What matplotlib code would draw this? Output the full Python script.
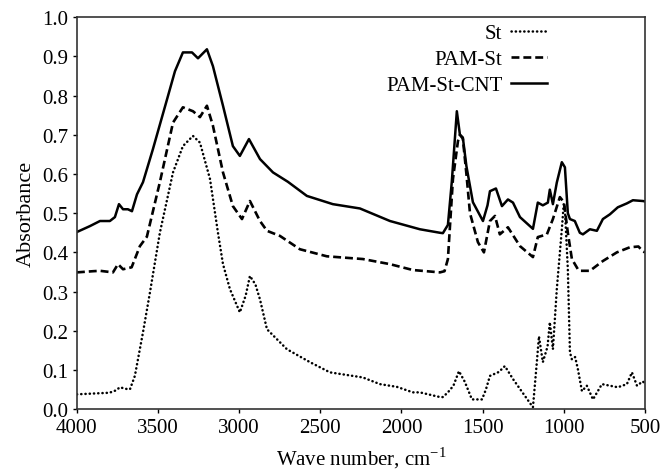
import matplotlib
matplotlib.use("Agg")
import matplotlib.pyplot as plt
from matplotlib.ticker import FormatStrFormatter

# FTIR spectra (wave number in cm^-1, absorbance)
wn_st = [4000, 3900, 3800, 3760, 3735, 3700, 3673, 3643, 3593, 3550, 3489, 3408,
         3347, 3285, 3242, 3180, 3131, 3100, 3057, 2996, 2960, 2934, 2900, 2872,
         2829, 2706, 2564, 2441, 2238, 2133, 2028, 1930, 1887, 1763, 1745, 1714,
         1680, 1646, 1610, 1566, 1504, 1480, 1455, 1400, 1363, 1313, 1250, 1190,
         1166, 1153, 1129, 1100, 1086, 1067, 1043, 1012, 1000, 993, 975, 962, 950,
         930, 913, 888, 858, 820, 765, 716, 667, 611, 580, 549, 513, 500]
abs_st = [0.038, 0.040, 0.042, 0.048, 0.056, 0.052, 0.051, 0.085, 0.196, 0.298,
          0.450, 0.604, 0.671, 0.697, 0.680, 0.587, 0.450, 0.370, 0.306, 0.247,
          0.290, 0.340, 0.318, 0.280, 0.204, 0.153, 0.120, 0.094, 0.081, 0.064,
          0.057, 0.043, 0.043, 0.031, 0.031, 0.043, 0.060, 0.097, 0.070, 0.025,
          0.025, 0.050, 0.085, 0.095, 0.110, 0.077, 0.040, 0.005, 0.120, 0.186,
          0.120, 0.160, 0.222, 0.153, 0.306, 0.459, 0.525, 0.510, 0.357, 0.145,
          0.127, 0.133, 0.102, 0.046, 0.060, 0.025, 0.064, 0.060, 0.056, 0.064,
          0.094, 0.060, 0.071, 0.065]

wn_pam = [4000, 3900, 3858, 3778, 3747, 3716, 3663, 3612, 3569, 3489, 3408, 3347,
          3285, 3242, 3199, 3162, 3100, 3039, 2983, 2934, 2872, 2829, 2749, 2626,
          2460, 2238, 2071, 1930, 1763, 1735, 1714, 1683, 1652, 1640, 1622, 1600,
          1578, 1529, 1492, 1455, 1424, 1394, 1344, 1270, 1190, 1160, 1104, 1067,
          1024, 999, 975, 950, 913, 901, 839, 759, 673, 593, 540, 513, 500]
abs_pam = [0.349, 0.352, 0.353, 0.349, 0.370, 0.357, 0.362, 0.416, 0.440, 0.579,
           0.731, 0.770, 0.760, 0.745, 0.774, 0.723, 0.604, 0.518, 0.485, 0.531,
           0.480, 0.455, 0.442, 0.408, 0.390, 0.383, 0.370, 0.355, 0.349, 0.352,
           0.383, 0.587, 0.684, 0.700, 0.690, 0.600, 0.500, 0.426, 0.400, 0.480,
           0.493, 0.446, 0.464, 0.416, 0.388, 0.439, 0.446, 0.485, 0.541, 0.528,
           0.450, 0.383, 0.357, 0.353, 0.353, 0.378, 0.400, 0.413, 0.415, 0.403,
           0.400]

wn_cnt = [4000, 3920, 3858, 3797, 3766, 3741, 3716, 3686, 3661, 3630, 3593, 3532,
          3445, 3396, 3347, 3291, 3254, 3199, 3162, 3100, 3039, 2996, 2940, 2872,
          2792, 2700, 2583, 2423, 2256, 2071, 1887, 1763, 1745, 1714, 1690, 1659,
          1640, 1622, 1600, 1560, 1498, 1470, 1455, 1418, 1381, 1344, 1313, 1270,
          1190, 1160, 1129, 1098, 1086, 1067, 1043, 1012, 993, 975, 962, 932, 901,
          882, 839, 796, 759, 716, 667, 611, 574, 513, 500]
abs_cnt = [0.452, 0.467, 0.480, 0.480, 0.490, 0.523, 0.510, 0.510, 0.505, 0.548,
           0.579, 0.663, 0.790, 0.862, 0.910, 0.910, 0.895, 0.918, 0.875, 0.774,
           0.671, 0.646, 0.689, 0.638, 0.604, 0.580, 0.544, 0.523, 0.512, 0.480,
           0.459, 0.450, 0.449, 0.470, 0.580, 0.760, 0.700, 0.693, 0.620, 0.528,
           0.480, 0.520, 0.556, 0.563, 0.518, 0.535, 0.527, 0.490, 0.460, 0.527,
           0.520, 0.527, 0.560, 0.523, 0.578, 0.630, 0.617, 0.500, 0.485, 0.480,
           0.450, 0.446, 0.459, 0.455, 0.485, 0.497, 0.515, 0.525, 0.533, 0.531,
           0.530]

plt.rcParams["font.family"] = ["Liberation Serif", "DejaVu Serif"]
plt.rcParams["font.size"] = 15

fig = plt.figure(figsize=(6.69, 4.77), dpi=100)
ax = fig.add_axes([0.115, 0.140, 0.849, 0.822])

ax.plot(wn_st, abs_st, color="black", linestyle=(0, (0.1, 1.6)), linewidth=1.8,
        dash_capstyle="round", label="St")
ax.plot(wn_pam, abs_pam, color="black", linestyle=(0, (3.0, 1.5)), linewidth=1.9,
        label="PAM-St")
ax.plot(wn_cnt, abs_cnt, color="black", linestyle="-", linewidth=1.8,
        label="PAM-St-CNT")

ax.set_xlim(4000, 500)
ax.set_ylim(0.0, 1.0)
ax.set_xticks(range(4000, 499, -500))
ax.set_yticks([i / 10 for i in range(11)])
ax.yaxis.set_major_formatter(FormatStrFormatter("%.1f"))
ax.tick_params(direction="out", length=3, width=1, labelsize=15)
ax.tick_params(axis="x", pad=3)
ax.tick_params(axis="y", pad=3)
for sp in ax.spines.values():
    sp.set_linewidth(1.2)
    sp.set_color("#333333")

ax.set_xlabel("Wave number, cm$^{\\mathregular{-1}}$", fontsize=15, labelpad=6)
ax.set_ylabel("Absorbance", fontsize=16, labelpad=5)

ax.legend(loc="upper right", bbox_to_anchor=(0.818, 0.948),
          bbox_transform=fig.transFigure, frameon=False, borderaxespad=0,
          borderpad=0, markerfirst=False, handlelength=1.75, handletextpad=0.4,
          labelspacing=0.3, fontsize=15)

fig.savefig("out.png", dpi=100)
